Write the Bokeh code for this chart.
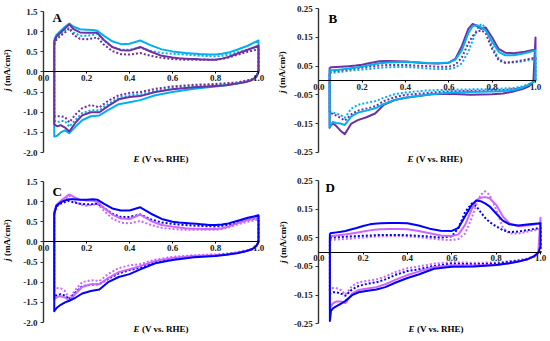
import math
from bokeh.plotting import figure
from bokeh.layouts import row, column
from bokeh.models import Range1d, FixedTicker, NumeralTickFormatter, Label
from bokeh.embed import file_html
from bokeh.resources import INLINE

# ---------------- data ----------------
E_UP = [0.05, 0.06, 0.08, 0.10, 0.12, 0.14, 0.17, 0.20, 0.23, 0.25, 0.28, 0.32, 0.36, 0.40, 0.45,
        0.50, 0.55, 0.60, 0.63, 0.66, 0.69, 0.71, 0.73, 0.75, 0.77, 0.80, 0.83, 0.86, 0.90, 0.95, 1.00]
E_DOWN = [1.00, 0.99, 0.97, 0.94, 0.90, 0.85, 0.80, 0.70, 0.60, 0.52, 0.45, 0.40, 0.35, 0.30, 0.26,
          0.22, 0.18, 0.15, 0.12, 0.10, 0.08, 0.065, 0.055, 0.05]

X_TICKS = [0.0, 0.2, 0.4, 0.6, 0.8, 1.0]
Y_TICKS_AC = [-2.0, -1.5, -1.0, -0.5, 0.0, 0.5, 1.0, 1.5]
Y_TICKS_BD = [-0.25, -0.15, -0.05, 0.05, 0.15, 0.25]

# Panel A (mA/cm2)
A_CYAN_SOLID_UP = [0.80, 0.92, 1.02, 1.12, 1.20, 1.12, 1.06, 1.05, 1.04, 1.02, 0.90, 0.76, 0.69, 0.70, 0.78,
                   0.66, 0.56, 0.51, 0.49, 0.47, 0.46, 0.45, 0.44, 0.44, 0.43, 0.43, 0.45, 0.48, 0.55, 0.65, 0.78]
A_PURPLE_SOLID_UP = [0.75, 0.88, 0.98, 1.08, 1.18, 1.06, 0.98, 0.97, 0.97, 0.97, 0.80, 0.62, 0.54, 0.53, 0.62,
                     0.50, 0.40, 0.36, 0.34, 0.33, 0.32, 0.32, 0.31, 0.31, 0.30, 0.30, 0.33, 0.37, 0.45, 0.55, 0.65]
A_CYAN_DOT_UP = [0.72, 0.85, 0.95, 1.02, 1.10, 0.98, 0.90, 0.90, 0.92, 0.95, 0.78, 0.62, 0.55, 0.55, 0.60,
                 0.52, 0.47, 0.45, 0.44, 0.43, 0.42, 0.41, 0.40, 0.40, 0.39, 0.38, 0.40, 0.43, 0.48, 0.55, 0.62]
A_PURPLE_DOT_UP = [0.68, 0.80, 0.90, 0.98, 1.08, 0.92, 0.82, 0.81, 0.83, 0.86, 0.68, 0.52, 0.44, 0.43, 0.47,
                   0.40, 0.35, 0.32, 0.31, 0.30, 0.30, 0.30, 0.30, 0.30, 0.30, 0.30, 0.32, 0.36, 0.42, 0.50, 0.56]
A_CYAN_SOLID_DN = [0.00, -0.12, -0.20, -0.25, -0.29, -0.33, -0.36, -0.42, -0.50, -0.58, -0.70, -0.75, -0.80,
                   -0.95, -1.08, -1.10, -1.20, -1.35, -1.52, -1.45, -1.50, -1.58, -1.60, -1.60]
A_PURPLE_SOLID_DN = [0.00, -0.12, -0.20, -0.25, -0.29, -0.33, -0.35, -0.38, -0.43, -0.50, -0.60, -0.62, -0.68,
                     -0.85, -1.00, -1.00, -1.08, -1.25, -1.48, -1.38, -1.32, -1.35, -1.32, -1.30]
A_CYAN_DOT_DN = [0.00, -0.10, -0.18, -0.23, -0.27, -0.30, -0.32, -0.35, -0.40, -0.47, -0.56, -0.58, -0.64,
                 -0.80, -0.95, -0.95, -1.02, -1.18, -1.36, -1.22, -1.22, -1.25, -1.22, -1.20]
A_PURPLE_DOT_DN = [0.00, -0.10, -0.18, -0.22, -0.26, -0.28, -0.30, -0.32, -0.36, -0.42, -0.50, -0.52, -0.58,
                   -0.72, -0.88, -0.82, -0.90, -1.05, -1.25, -1.12, -1.10, -1.10, -1.10, -1.08]

# Panel B (mA/cm2)
B_PURPLE_SOLID_UP = [0.045, 0.046, 0.047, 0.048, 0.049, 0.050, 0.052, 0.055, 0.060, 0.063, 0.067, 0.068, 0.067,
                     0.066, 0.063, 0.060, 0.059, 0.062, 0.075, 0.120, 0.180, 0.197, 0.190, 0.180, 0.185, 0.150,
                     0.110, 0.097, 0.095, 0.100, 0.108]
B_CYAN_SOLID_UP = [0.035, 0.036, 0.037, 0.038, 0.040, 0.042, 0.045, 0.048, 0.053, 0.056, 0.060, 0.063, 0.064,
                   0.065, 0.064, 0.061, 0.060, 0.063, 0.072, 0.105, 0.165, 0.190, 0.193, 0.185, 0.175, 0.135,
                   0.100, 0.088, 0.088, 0.095, 0.105]
B_PURPLE_DOT_UP = [0.030, 0.031, 0.033, 0.035, 0.037, 0.039, 0.042, 0.045, 0.048, 0.050, 0.052, 0.054, 0.054,
                   0.054, 0.052, 0.050, 0.048, 0.048, 0.055, 0.080, 0.130, 0.155, 0.170, 0.175, 0.165, 0.110,
                   0.070, 0.062, 0.065, 0.072, 0.080]
B_CYAN_DOT_UP = [0.025, 0.026, 0.028, 0.030, 0.032, 0.034, 0.036, 0.038, 0.040, 0.042, 0.044, 0.046, 0.047,
                 0.047, 0.045, 0.042, 0.040, 0.040, 0.045, 0.060, 0.100, 0.140, 0.180, 0.197, 0.185, 0.120,
                 0.075, 0.062, 0.063, 0.068, 0.075]
B_PURPLE_SOLID_DN = [0.150, -0.005, -0.020, -0.030, -0.038, -0.045, -0.048, -0.050, -0.046, -0.048, -0.055,
                     -0.060, -0.068, -0.085, -0.115, -0.128, -0.138, -0.150, -0.187, -0.175, -0.158, -0.150,
                     -0.158, -0.165]
B_CYAN_SOLID_DN = [0.000, -0.005, -0.015, -0.025, -0.033, -0.037, -0.038, -0.040, -0.043, -0.048, -0.055,
                   -0.060, -0.068, -0.082, -0.097, -0.105, -0.112, -0.125, -0.155, -0.150, -0.148, -0.145,
                   -0.155, -0.162]
B_PURPLE_DOT_DN = [0.000, -0.005, -0.015, -0.025, -0.030, -0.033, -0.035, -0.036, -0.038, -0.042, -0.047,
                   -0.050, -0.058, -0.072, -0.090, -0.098, -0.105, -0.118, -0.140, -0.130, -0.122, -0.118,
                   -0.112, -0.110]
B_CYAN_DOT_DN = [0.000, -0.005, -0.012, -0.020, -0.026, -0.028, -0.030, -0.031, -0.032, -0.034, -0.038,
                 -0.042, -0.048, -0.060, -0.072, -0.078, -0.085, -0.098, -0.130, -0.120, -0.115, -0.112,
                 -0.110, -0.110]

# Panel C (mA/cm2)
C_BLUE_SOLID_UP = [0.70, 0.90, 0.98, 1.03, 1.06, 1.06, 1.05, 1.05, 1.06, 1.05, 0.95, 0.83, 0.78, 0.78, 0.86,
                   0.70, 0.57, 0.50, 0.48, 0.47, 0.46, 0.45, 0.44, 0.43, 0.42, 0.42, 0.43, 0.46, 0.52, 0.60, 0.66]
C_MAGENTA_SOLID_UP = [0.75, 0.92, 1.02, 1.10, 1.18, 1.12, 1.05, 1.03, 1.02, 1.00, 0.85, 0.68, 0.58, 0.57, 0.68,
                      0.52, 0.42, 0.38, 0.36, 0.34, 0.33, 0.33, 0.33, 0.32, 0.32, 0.32, 0.34, 0.38, 0.46, 0.55, 0.63]
C_BLUE_DOT_UP = [0.70, 0.88, 0.95, 0.99, 1.02, 0.98, 0.95, 0.93, 0.94, 0.95, 0.85, 0.70, 0.62, 0.62, 0.68,
                 0.56, 0.48, 0.45, 0.43, 0.42, 0.41, 0.40, 0.40, 0.39, 0.39, 0.38, 0.40, 0.43, 0.48, 0.55, 0.60]
C_MAGENTA_DOT_UP = [0.70, 0.88, 0.98, 1.05, 1.15, 1.02, 0.93, 0.90, 0.92, 0.95, 0.78, 0.58, 0.48, 0.46, 0.52,
                    0.42, 0.35, 0.32, 0.31, 0.30, 0.30, 0.30, 0.30, 0.30, 0.30, 0.30, 0.32, 0.36, 0.43, 0.50, 0.56]
C_BLUE_SOLID_DN = [0.00, -0.10, -0.18, -0.23, -0.28, -0.32, -0.35, -0.38, -0.45, -0.53, -0.68, -0.80, -0.87,
                   -1.00, -1.18, -1.22, -1.28, -1.38, -1.46, -1.50, -1.56, -1.62, -1.68, -1.72]
C_MAGENTA_SOLID_DN = [0.00, -0.10, -0.18, -0.23, -0.27, -0.31, -0.33, -0.35, -0.40, -0.47, -0.60, -0.68, -0.75,
                      -0.90, -1.05, -1.05, -1.12, -1.28, -1.46, -1.38, -1.35, -1.36, -1.40, -1.42]
C_BLUE_DOT_DN = [0.00, -0.10, -0.18, -0.23, -0.27, -0.31, -0.34, -0.36, -0.42, -0.50, -0.64, -0.70, -0.78,
                 -0.92, -1.05, -1.06, -1.10, -1.25, -1.42, -1.33, -1.30, -1.32, -1.34, -1.35]
C_MAGENTA_DOT_DN = [0.00, -0.10, -0.17, -0.22, -0.26, -0.29, -0.31, -0.33, -0.37, -0.44, -0.55, -0.58, -0.65,
                    -0.80, -0.97, -0.95, -1.00, -1.18, -1.40, -1.22, -1.15, -1.15, -1.15, -1.15]

# Panel D (mA/cm2)
D_BLUE_SOLID_UP = [0.066, 0.067, 0.069, 0.071, 0.074, 0.078, 0.084, 0.091, 0.097, 0.099, 0.101, 0.102, 0.102,
                   0.101, 0.093, 0.082, 0.075, 0.074, 0.085, 0.125, 0.165, 0.180, 0.178, 0.170, 0.160, 0.135,
                   0.110, 0.097, 0.093, 0.097, 0.101]
D_MAGENTA_SOLID_UP = [0.055, 0.056, 0.058, 0.060, 0.062, 0.064, 0.068, 0.072, 0.076, 0.078, 0.080, 0.081, 0.081,
                      0.080, 0.074, 0.066, 0.058, 0.056, 0.062, 0.095, 0.150, 0.180, 0.190, 0.192, 0.188, 0.165,
                      0.125, 0.100, 0.090, 0.094, 0.100]
D_BLUE_DOT_UP = [0.050, 0.051, 0.052, 0.053, 0.054, 0.055, 0.056, 0.057, 0.058, 0.059, 0.060, 0.060, 0.060,
                 0.059, 0.057, 0.054, 0.051, 0.055, 0.085, 0.140, 0.170, 0.160, 0.140, 0.120, 0.105, 0.090,
                 0.077, 0.070, 0.072, 0.078, 0.085]
D_MAGENTA_DOT_UP = [0.043, 0.043, 0.044, 0.045, 0.046, 0.047, 0.049, 0.051, 0.053, 0.054, 0.055, 0.056, 0.056,
                    0.055, 0.052, 0.048, 0.044, 0.042, 0.046, 0.065, 0.120, 0.165, 0.200, 0.212, 0.200, 0.150,
                    0.085, 0.065, 0.065, 0.073, 0.080]
D_BLUE_SOLID_DN = [0.020, -0.002, -0.015, -0.025, -0.033, -0.040, -0.045, -0.050, -0.051, -0.058, -0.078,
                   -0.090, -0.105, -0.122, -0.130, -0.135, -0.140, -0.150, -0.170, -0.180, -0.188, -0.195,
                   -0.205, -0.240]
D_MAGENTA_SOLID_DN = [0.120, 0.000, -0.015, -0.025, -0.033, -0.040, -0.045, -0.047, -0.046, -0.052, -0.068,
                      -0.080, -0.095, -0.112, -0.122, -0.127, -0.132, -0.145, -0.178, -0.172, -0.172, -0.178,
                      -0.188, -0.200]
D_BLUE_DOT_DN = [0.000, -0.003, -0.015, -0.025, -0.030, -0.035, -0.040, -0.042, -0.040, -0.048, -0.060,
                 -0.066, -0.078, -0.095, -0.105, -0.110, -0.118, -0.130, -0.152, -0.145, -0.140, -0.140,
                 -0.143, -0.145]
D_MAGENTA_DOT_DN = [0.000, -0.003, -0.015, -0.022, -0.028, -0.032, -0.036, -0.037, -0.035, -0.040, -0.050,
                    -0.056, -0.068, -0.085, -0.095, -0.100, -0.105, -0.118, -0.148, -0.132, -0.126, -0.125,
                    -0.128, -0.130]

# ---------------- style ----------------
PURPLE = "#7030A0"
CYAN = "#00B0F0"
BLUE = "#0000FF"
MAGENTA = "#CC66FF"
FONT = "Liberation Serif"
DOT = "2 2"
TICK_FS = "9px"
TITLE_FS = "9px"


def loop(up, down):
    assert len(up) == len(E_UP) and len(down) == len(E_DOWN)
    xs = E_UP + E_DOWN + [E_UP[0]]
    ys = up + down + [up[0]]
    return xs, ys


def panel(letter, yr, yticks, fmt, curves, w, h, xanchor, yanchor, letter_px, title_px, ylab_px):
    """xanchor = (pixel of E=0, pixel of E=1); yanchor = (pixel of yr top, pixel of yr bottom),
    all in figure-local pixels; the frame covers the whole figure."""
    lo, hi = yr
    px0, px1 = xanchor
    pyt, pyb = yanchor
    sx = px1 - px0
    sy = (pyb - pyt) / (hi - lo)
    x_start, x_end = -px0 / sx, (w - px0) / sx
    y_end, y_start = hi + pyt / sy, lo - (h - pyb) / sy

    p = figure(width=w, height=h, x_range=Range1d(x_start, x_end), y_range=Range1d(y_start, y_end),
               output_backend="svg", toolbar_location=None)
    p.min_border = 0
    p.outline_line_color = None
    p.grid.visible = False
    p.background_fill_color = "white"
    p.border_fill_color = "white"

    for up, down, color, dash in curves:
        xs, ys = loop(up, down)
        p.line(xs, ys, line_color=color, line_width=2, line_dash=dash, line_join="round")

    xa = p.xaxis[0]
    xa.fixed_location = 0
    xa.bounds = (0, 1.0)
    xa.ticker = FixedTicker(ticks=X_TICKS)
    xa.formatter = NumeralTickFormatter(format="0.0")
    xa.major_tick_out = 2
    xa.major_tick_in = 0
    xa.minor_tick_out = 0
    xa.minor_tick_in = 0
    xa.major_label_standoff = 1
    xa.major_label_text_font = FONT
    xa.major_label_text_font_style = "bold"
    xa.major_label_text_font_size = TICK_FS
    xa.major_label_text_color = "#222222"
    xa.axis_line_color = "black"
    xa.axis_line_width = 1
    xa.major_tick_line_color = "black"

    ya = p.yaxis[0]
    ya.fixed_location = 0
    ya.bounds = (lo, hi)
    ya.ticker = FixedTicker(ticks=yticks)
    ya.formatter = NumeralTickFormatter(format=fmt)
    ya.major_tick_out = 3
    ya.major_tick_in = 0
    ya.minor_tick_out = 0
    ya.minor_tick_in = 0
    ya.major_label_standoff = 3
    ya.major_label_text_font = FONT
    ya.major_label_text_font_style = "bold"
    ya.major_label_text_font_size = TICK_FS
    ya.major_label_text_color = "#222222"
    ya.axis_line_color = "#333333"
    ya.axis_line_width = 1.4
    ya.major_tick_line_color = "#333333"
    ya.major_tick_line_width = 1.2

    def dx(px):
        return (px - px0) / sx

    def dy(py):
        return hi - (py - pyt) / sy

    # panel letter
    p.add_layout(Label(x=dx(letter_px[0]), y=dy(letter_px[1]), text=letter, text_font=FONT,
                       text_font_style="bold", text_font_size="13px", text_baseline="top",
                       text_align="left", text_color="black"))
    # x title  E (V vs. RHE)
    tx, ty = title_px
    p.add_layout(Label(x=dx(tx), y=dy(ty), text="E", text_font=FONT, text_font_style="bold italic",
                       text_font_size=TITLE_FS, text_align="right", text_baseline="middle",
                       text_color="black"))
    p.add_layout(Label(x=dx(tx + 2.5), y=dy(ty), text="(V vs. RHE)", text_font=FONT,
                       text_font_style="bold", text_font_size=TITLE_FS, text_align="left",
                       text_baseline="middle", text_color="black"))
    # y title  j (mA/cm2)
    lx, ly = ylab_px
    p.add_layout(Label(x=dx(lx), y=dy(ly), text="j", text_font=FONT, text_font_style="bold italic",
                       text_font_size=TITLE_FS, text_align="right", text_baseline="middle",
                       angle=math.pi / 2, text_color="black"))
    p.add_layout(Label(x=dx(lx), y=dy(ly - 2.5), text="(mA/cm\u00b2)", text_font=FONT,
                       text_font_style="bold", text_font_size=TITLE_FS, text_align="left",
                       text_baseline="middle", angle=math.pi / 2, text_color="black"))
    return p


pA = panel("A", (-2.0, 1.5), Y_TICKS_AC, "0.0",
           [(A_CYAN_DOT_UP, A_CYAN_DOT_DN, CYAN, DOT),
            (A_PURPLE_DOT_UP, A_PURPLE_DOT_DN, PURPLE, DOT),
            (A_CYAN_SOLID_UP, A_CYAN_SOLID_DN, CYAN, "solid"),
            (A_PURPLE_SOLID_UP, A_PURPLE_SOLID_DN, PURPLE, "solid")],
           275, 170, (43, 258), (11, 152), (52, 9), (139, 158), (6, 88))
pB = panel("B", (-0.25, 0.25), Y_TICKS_BD, "0.00",
           [(B_CYAN_DOT_UP, B_CYAN_DOT_DN, CYAN, DOT),
            (B_PURPLE_DOT_UP, B_PURPLE_DOT_DN, PURPLE, DOT),
            (B_PURPLE_SOLID_UP, B_PURPLE_SOLID_DN, PURPLE, "solid"),
            (B_CYAN_SOLID_UP, B_CYAN_SOLID_DN, CYAN, "solid")],
           274, 170, (43.3, 260), (8.3, 151.7), (53, 10), (138, 158), (6, 90))
pC = panel("C", (-2.0, 1.5), Y_TICKS_AC, "0.0",
           [(C_MAGENTA_DOT_UP, C_MAGENTA_DOT_DN, MAGENTA, DOT),
            (C_BLUE_DOT_UP, C_BLUE_DOT_DN, BLUE, DOT),
            (C_MAGENTA_SOLID_UP, C_MAGENTA_SOLID_DN, MAGENTA, "solid"),
            (C_BLUE_SOLID_UP, C_BLUE_SOLID_DN, BLUE, "solid")],
           275, 170, (43, 258), (11, 152), (52, 13), (139, 158), (6, 88))
pD = panel("D", (-0.25, 0.25), Y_TICKS_BD, "0.00",
           [(D_MAGENTA_DOT_UP, D_MAGENTA_DOT_DN, MAGENTA, DOT),
            (D_BLUE_DOT_UP, D_BLUE_DOT_DN, BLUE, DOT),
            (D_MAGENTA_SOLID_UP, D_MAGENTA_SOLID_DN, MAGENTA, "solid"),
            (D_BLUE_SOLID_UP, D_BLUE_SOLID_DN, BLUE, "solid")],
           274, 170, (43.3, 265), (10, 153.3), (50, 9), (139, 158), (7, 90))

layout = column(row(pA, pB), row(pC, pD))
open("out.html", "w").write(file_html(layout, INLINE))
